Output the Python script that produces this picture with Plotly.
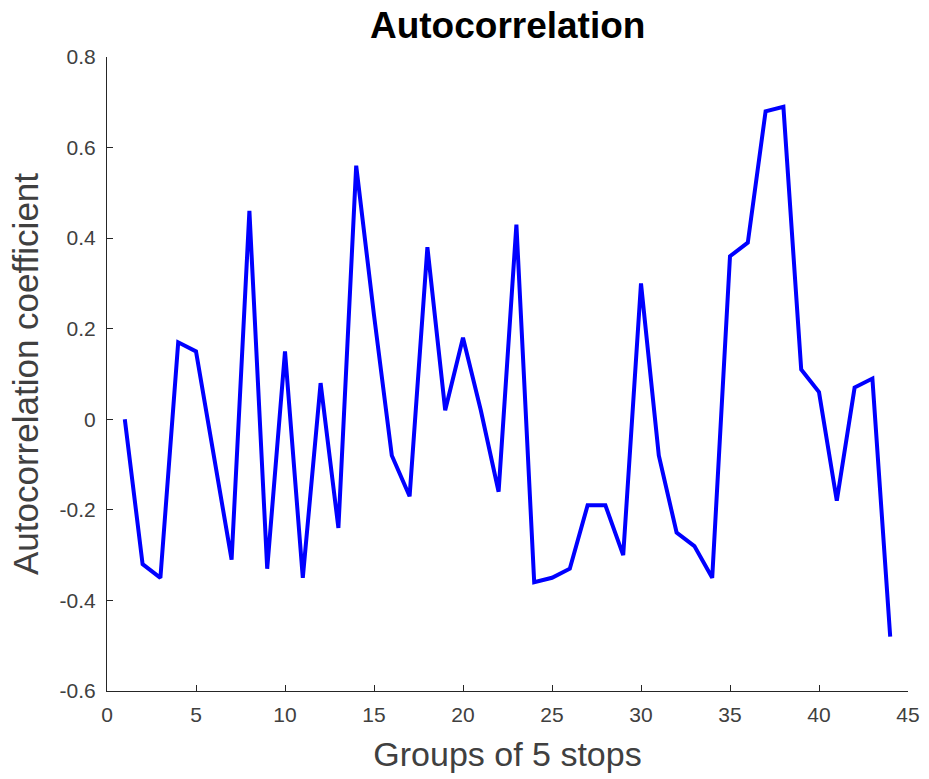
import plotly.graph_objects as go

groups = list(range(1, 45))
autocorr = [0.0, -0.32, -0.35, 0.17, 0.15, -0.08, -0.31, 0.46, -0.33, 0.15,
            -0.35, 0.08, -0.24, 0.56, 0.23, -0.08, -0.17, 0.38, 0.02, 0.18,
            0.02, -0.16, 0.43, -0.36, -0.35, -0.33, -0.19, -0.19, -0.30, 0.30,
            -0.08, -0.25, -0.28, -0.35, 0.36, 0.39, 0.68, 0.69, 0.11, 0.06,
            -0.18, 0.07, 0.09, -0.48]

x_ticks = [0, 5, 10, 15, 20, 25, 30, 35, 40, 45]
y_ticks = [-0.6, -0.4, -0.2, 0, 0.2, 0.4, 0.6, 0.8]
y_tick_labels = ["-0.6", "-0.4", "-0.2", "0", "0.2", "0.4", "0.6", "0.8"]

fig = go.Figure()
fig.add_trace(go.Scatter(x=groups, y=autocorr, mode="lines",
                         line=dict(color="#0000FF", width=4)))

axis_font = "Liberation Sans, Arial, sans-serif"
fig.update_layout(
    width=929, height=779,
    margin=dict(l=107, r=21, t=57, b=88, autoexpand=False),
    paper_bgcolor="white", plot_bgcolor="white",
    showlegend=False,
    font=dict(family=axis_font, color="#262626"),
    title=dict(text="<b>Autocorrelation</b>", x=0.5465, xanchor="center",
               y=0.968, yanchor="middle",
               font=dict(size=37, color="black", family=axis_font)),
    xaxis=dict(range=[0, 45], tickvals=x_ticks, ticks="inside", ticklen=6,
               tickcolor="#262626", showline=True, linecolor="#262626", linewidth=1,
               showgrid=False, zeroline=False, tickfont=dict(size=21, color="#404040"),
               ticklabelstandoff=5,
               title=dict(text="Groups of 5 stops", font=dict(size=34, color="#404040"),
                          standoff=16)),
    yaxis=dict(range=[-0.6, 0.8], tickvals=y_ticks, ticktext=y_tick_labels,
               ticks="inside", ticklen=6, tickcolor="#262626", showline=True,
               linecolor="#262626", linewidth=1, showgrid=False, zeroline=False,
               tickfont=dict(size=21, color="#404040"), ticklabelstandoff=6,
               title=dict(text="Autocorrelation coefficient",
                          font=dict(size=35, color="#404040"), standoff=10)),
)

fig.write_html("out.html")
